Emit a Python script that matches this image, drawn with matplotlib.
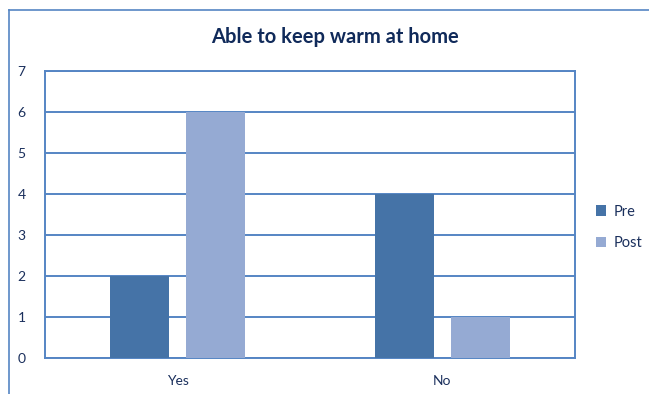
import numpy as np
import matplotlib
matplotlib.use("Agg")
from matplotlib import pyplot as plt
from matplotlib.lines import Line2D

categories = ["Yes", "No"]
pre = [2, 4]
post = [6, 1]
y_ticks = [0, 1, 2, 3, 4, 5, 6, 7]

plt.rcParams['font.family'] = ['Lato', 'DejaVu Sans']

W, H = 649, 394
fig = plt.figure(figsize=(W / 100, H / 100), dpi=100)
ax = fig.add_axes([45 / W, 1 - 358 / H, 530 / W, 287 / H])

line_col = "#5585c4"
text_col = "#1a2f5c"
x = np.arange(len(categories))
bw = 0.222
ax.bar(x - 0.142, pre, bw, color="#4573a7", label="Pre", zorder=3)
ax.bar(x + 0.142, post, bw, color="#95aad3", label="Post", zorder=3)

ax.set_xlim(-0.5, 1.5)
ax.set_ylim(0, 7)
ax.set_yticks(y_ticks)
ax.set_xticks(x)
ax.set_xticklabels(categories)
ax.yaxis.grid(True, color=line_col, linewidth=1.4, zorder=0)
for s in ax.spines.values():
    s.set_color(line_col)
    s.set_linewidth(1.4)
ax.tick_params(length=0, colors=text_col, labelsize=10)
ax.tick_params(axis="y", pad=14)
ax.tick_params(axis="x", pad=12)

fig.text(335 / W, 1 - 37 / H, "Able to keep warm at home", ha="center", va="center",
         fontsize=14.5, fontweight="bold", color="#102a5a")

ax.legend(loc="center left", bbox_to_anchor=(1.015, 0.455), frameon=False,
          handlelength=0.7, handleheight=0.7, labelspacing=1.2, fontsize=10.5,
          labelcolor=text_col, handletextpad=0.5)

# outer chart border (cropped at right and bottom)
fig.add_artist(Line2D([9 / W, 9 / W], [0, 1 - 10 / H], transform=fig.transFigure,
                      color=line_col, linewidth=1.2))
fig.add_artist(Line2D([9 / W, 1], [1 - 10 / H, 1 - 10 / H], transform=fig.transFigure,
                      color=line_col, linewidth=1.2))

fig.savefig("out.png", dpi=100)
